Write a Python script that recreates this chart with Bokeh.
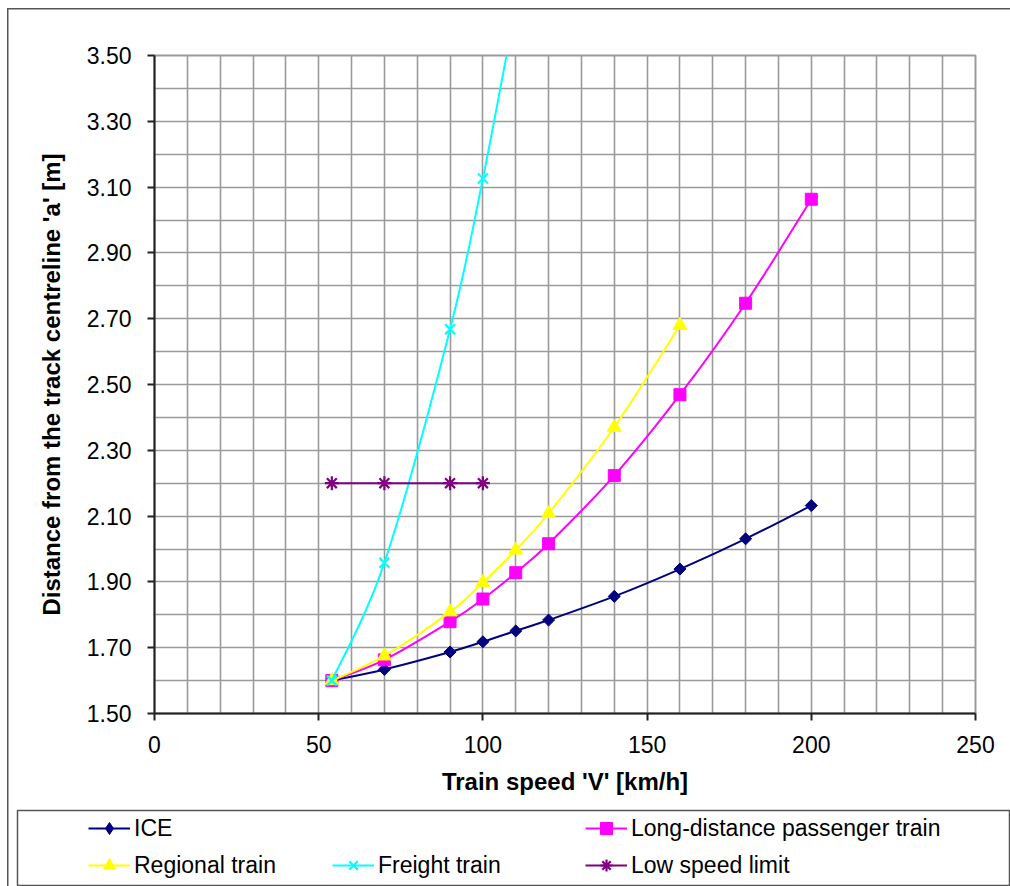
import numpy as np
from bokeh.plotting import figure
from bokeh.layouts import column
from bokeh.models import (Range1d, FixedTicker, Legend, LegendItem, PrintfTickFormatter)
from bokeh.embed import file_html
from bokeh.resources import INLINE

# ---------------- data ----------------
ice_speed = [54, 70, 90, 100, 110, 120, 140, 160, 180, 200]
ice_dist = [1.60, 1.634, 1.687, 1.718, 1.751, 1.784, 1.856, 1.939, 2.031, 2.132]

ld_speed = [54, 70, 90, 100, 110, 120, 140, 160, 180, 200]
ld_dist = [1.60, 1.663, 1.779, 1.848, 1.928, 2.016, 2.223, 2.469, 2.747, 3.063]

reg_speed = [54, 70, 90, 100, 110, 120, 140, 160]
reg_dist = [1.60, 1.675, 1.809, 1.898, 1.997, 2.108, 2.370, 2.680]

fr_speed = [54, 70, 90, 100, 110]
fr_dist = [1.60, 1.958, 2.668, 3.126, 3.650]

low_speed = [54, 70, 90, 100]
low_dist = [2.20, 2.20, 2.20, 2.20]

x_ticks = [0, 50, 100, 150, 200, 250]
y_ticks = [1.50, 1.70, 1.90, 2.10, 2.30, 2.50, 2.70, 2.90, 3.10, 3.30, 3.50]
x_grid = list(range(0, 251, 10))
y_grid = [round(1.5 + 0.1 * i, 2) for i in range(21)]

FONT = "Liberation Sans"
W = 1010
H1 = 806
H2 = 80

p = figure(width=W, height=H1, output_backend="svg", toolbar_location=None,
           x_range=Range1d(0, 250), y_range=Range1d(1.5, 3.5),
           min_border_left=154, min_border_right=35, min_border_top=55,
           min_border_bottom=93, background_fill_color="white",
           border_fill_color=None, frame_align=False)
p.outline_line_color = "#9a9a9a"
p.outline_line_width = 2

# grid
p.xgrid.ticker = FixedTicker(ticks=x_grid)
p.ygrid.ticker = FixedTicker(ticks=y_grid)
for g in (p.xgrid, p.ygrid):
    g.grid_line_color = "#9a9a9a"
    g.grid_line_width = 1.6

# axes
p.xaxis.ticker = FixedTicker(ticks=x_ticks)
p.yaxis.ticker = FixedTicker(ticks=y_ticks)
p.yaxis.formatter = PrintfTickFormatter(format="%.2f")
p.xaxis.axis_label = "Train speed 'V' [km/h]"
p.yaxis.axis_label = "Distance from the track centreline 'a' [m]"
for ax in (p.xaxis, p.yaxis):
    ax.axis_line_color = "#222222"
    ax.axis_line_width = 2
    ax.major_tick_line_color = "#222222"
    ax.major_tick_line_width = 2
    ax.major_tick_out = 7
    ax.major_tick_in = 0
    ax.minor_tick_line_color = None
    ax.major_label_text_font = FONT
    ax.major_label_text_font_size = "23px"
    ax.major_label_text_color = "black"
    ax.axis_label_text_font = FONT
    ax.axis_label_text_font_size = "24px"
    ax.axis_label_text_font_style = "bold"
    ax.axis_label_text_color = "black"
p.xaxis.major_label_standoff = 15
p.xaxis.axis_label_standoff = 12
p.yaxis.major_label_standoff = 16
p.yaxis.axis_label_standoff = 19


def smooth(xs, ys):
    x = np.asarray(xs, float)
    y = np.asarray(ys, float)
    n = len(x)
    xp = np.concatenate([[x[0]], x, [x[-1]]])
    yp = np.concatenate([[y[0]], y, [y[-1]]])
    return dict(
        x0=x[:-1], y0=y[:-1], x1=x[1:], y1=y[1:],
        cx0=x[:-1] + (xp[2:n + 1] - xp[0:n - 1]) / 6.0,
        cy0=y[:-1] + (yp[2:n + 1] - yp[0:n - 1]) / 6.0,
        cx1=x[1:] - (xp[3:n + 2] - xp[1:n]) / 6.0,
        cy1=y[1:] - (yp[3:n + 2] - yp[1:n]) / 6.0,
    )


# name, x, y, colour, chart marker, size, angle, legend marker, smoothed
series = [
    ("ICE", ice_speed, ice_dist, "#000080", "square", 8.5, np.pi / 4, "diamond", True),
    ("Long-distance passenger train", ld_speed, ld_dist, "#FF00FF", "square", 12, 0, "square", True),
    ("Regional train", reg_speed, reg_dist, "#FFFF00", "triangle", 14, 0, "triangle", True),
    ("Freight train", fr_speed, fr_dist, "#00FFFF", "x", 14, 0, "x", True),
    ("Low speed limit", low_speed, low_dist, "#800080", "asterisk", 14, 0, "asterisk", False),
]

# legend panel (boxed) below the chart; its frame is only the legend box
# (the series lie outside its view, so only the legend glyphs show)
q = figure(width=W, height=H2, output_backend="svg", toolbar_location=None,
           x_range=Range1d(-100, -50), y_range=Range1d(-100, -50),
           x_axis_location=None, y_axis_location=None,
           min_border_left=17, min_border_right=0, min_border_top=4,
           min_border_bottom=1, background_fill_color="white",
           border_fill_color=None, frame_align=False)
q.grid.visible = False
q.outline_line_color = "#555555"
q.outline_line_width = 1.5

items = {}
for name, xs, ys, col, mk, sz, ang, lmk, sm in series:
    if sm:
        p.bezier(line_color=col, line_width=2, **smooth(xs, ys))
    else:
        p.line(xs, ys, line_color=col, line_width=2)
    ln = q.line(xs, ys, line_color=col, line_width=2)
    if mk in ("x", "asterisk"):
        p.scatter(xs, ys, marker=mk, size=sz, line_color=col, line_width=2.2)
        sc = q.scatter(xs, ys, marker=lmk, line_color=col, line_width=2.2)
    else:
        p.scatter(xs, ys, marker=mk, size=sz, angle=ang, fill_color=col, line_color=col)
        sc = q.scatter(xs, ys, marker=lmk, fill_color=col, line_color=col)
    items[name] = [ln, sc]

col_x = [71, 315, 568]
row_y = [42, 5]
layout = [
    ("ICE", 0, 0),
    ("Long-distance passenger train", 2, 0),
    ("Regional train", 0, 1),
    ("Freight train", 1, 1),
    ("Low speed limit", 2, 1),
]
for name, c, r in layout:
    leg = Legend(items=[LegendItem(label=name, renderers=items[name])],
                 location=(col_x[c], row_y[r]), padding=0, margin=0,
                 border_line_alpha=0, background_fill_alpha=0,
                 glyph_width=42, glyph_height=30, label_height=30,
                 label_standoff=4, label_text_font=FONT,
                 label_text_font_size="23px", label_text_color="black")
    q.add_layout(leg)

page = column(p, q, spacing=0, styles={
    "background": "linear-gradient(#555555, #555555) 7px 8px / 1.5px 100% no-repeat, "
                  "linear-gradient(#555555, #555555) 7px 8px / 100% 1.5px no-repeat, white"
})

open("out.html", "w").write(file_html(page, INLINE))
